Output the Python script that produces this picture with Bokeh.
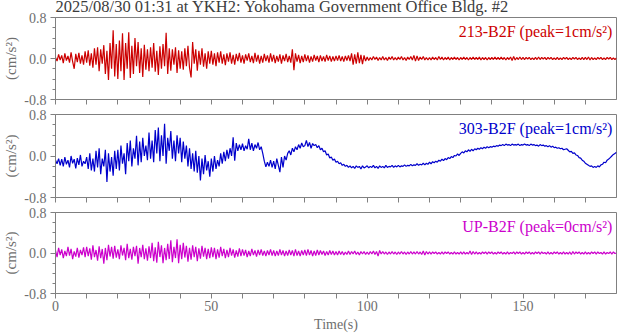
import numpy as np
from bokeh.plotting import figure
from bokeh.layouts import column
from bokeh.models import FixedTicker, PrintfTickFormatter, Label, Range1d, ColumnDataSource, Title
from bokeh.embed import file_html
from bokeh.resources import INLINE

# ---------------- data (0.5 s sampling) ----------------
sample_step_s = 0.5

acc_213_b2f = [
    0.02,-0.05,0.08,-0.03,0.06,-0.09,0.1,-0.04,0.05,-0.08,0.12,-0.06,-0.2,0.09,-0.07,0.11,-0.1,0.06,-0.12,0.14,
    -0.08,0.16,-0.14,0.1,-0.18,0.2,-0.12,0.22,-0.25,0.18,-0.1,0.26,-0.3,0.15,-0.42,0.3,-0.2,0.55,-0.35,0.28,
    -0.4,0.35,-0.25,0.49,-0.42,0.3,-0.2,0.51,-0.38,0.25,-0.3,0.4,-0.15,0.32,-0.28,0.2,-0.36,0.27,-0.22,0.18,
    -0.25,0.22,-0.18,0.3,-0.26,0.15,-0.32,0.24,-0.2,0.28,-0.15,0.5,-0.3,0.2,-0.24,0.18,-0.12,0.22,-0.28,0.16,
    -0.2,0.14,-0.22,0.2,-0.15,0.25,-0.18,-0.37,0.32,-0.1,0.18,-0.24,0.15,-0.12,0.2,-0.16,0.1,-0.2,0.14,-0.1,
    0.15,-0.12,0.1,-0.15,0.12,-0.08,0.14,-0.1,0.08,-0.13,0.1,-0.06,0.12,-0.1,0.07,-0.12,0.09,-0.05,0.11,-0.08,
    0.06,-0.1,0.08,-0.04,0.1,-0.07,0.05,-0.09,0.11,-0.06,0.07,-0.1,0.05,-0.08,0.09,-0.05,0.06,-0.08,0.1,-0.06,
    0.07,-0.09,0.05,-0.06,0.08,-0.1,0.06,-0.05,0.09,-0.07,0.05,-0.08,0.18,-0.23,0.1,-0.06,0.07,-0.09,0.05,-0.07,
    0.08,-0.05,0.06,-0.08,0.04,-0.06,0.07,-0.04,0.05,-0.07,0.06,-0.05,0.04,-0.06,0.07,-0.04,0.05,-0.06,0.04,-0.05,
    0.05,-0.04,0.06,-0.05,0.04,-0.06,0.05,-0.04,0.06,-0.05,0.1,-0.12,0.08,-0.1,0.12,-0.09,0.07,-0.11,0.06,-0.05,
    0.03,-0.04,0.02,-0.03,0.04,-0.02,0.03,-0.04,0.02,-0.03,0.04,-0.03,0.02,-0.04,0.03,-0.02,0.04,-0.03,0.02,-0.03,
    0.03,-0.02,0.04,-0.03,0.02,-0.04,0.03,-0.02,0.04,-0.03,0.06,-0.05,0.05,-0.04,0.03,-0.02,0.04,-0.03,0.02,-0.03,
    0.02,-0.03,0.03,-0.02,0.02,-0.03,0.04,-0.02,0.03,-0.03,0.02,-0.02,0.03,-0.03,0.02,-0.02,0.03,-0.02,0.02,-0.03,
    0.02,-0.02,0.03,-0.02,0.02,-0.03,0.02,-0.02,0.03,-0.02,0.02,-0.02,0.03,-0.03,0.02,-0.02,0.02,-0.03,0.02,-0.02,
    0.02,-0.02,0.03,-0.02,0.02,-0.02,0.03,-0.02,0.02,-0.03,0.02,-0.02,0.03,-0.04,0.04,-0.03,0.02,-0.02,0.03,-0.02,
    0.02,-0.02,0.02,-0.01,0.02,-0.02,0.01,-0.02,0.02,-0.02,0.03,-0.02,0.02,-0.01,0.02,-0.02,0.02,-0.01,0.02,-0.02,
    0.01,-0.02,0.02,-0.02,0.01,-0.02,0.02,-0.01,0.02,-0.02,0.01,-0.02,0.02,-0.01,0.02,-0.02,0.01,-0.02,0.02,-0.02,
    0.02,-0.02,0.03,-0.03,0.02,-0.02,0.01,-0.02,0.02,-0.01,0.02,-0.02,0.01,-0.02,0.02,-0.01,0.02,-0.02,0.01,-0.02,
    0.01,
]

acc_303_b2f = [
    -0.08,-0.15,-0.05,-0.18,-0.06,-0.2,-0.02,-0.16,-0.08,-0.22,0.0,-0.14,-0.06,-0.24,-0.04,-0.17,0.02,-0.2,-0.1,-0.15,
    -0.02,-0.25,0.05,-0.28,-0.05,-0.3,0.1,-0.22,0.15,-0.35,-0.05,-0.2,0.12,-0.5,0.05,-0.3,-0.02,-0.38,0.1,-0.25,
    0.12,-0.28,0.2,-0.15,0.05,-0.35,0.25,-0.1,0.3,-0.2,0.15,-0.05,0.39,-0.18,0.28,-0.12,0.35,0.0,0.2,-0.08,
    0.45,-0.05,0.3,-0.12,0.5,0.05,0.55,-0.1,0.4,0.0,0.62,-0.15,0.35,0.1,0.48,-0.05,0.3,-0.1,0.4,0.05,
    0.35,-0.12,0.28,-0.05,0.2,-0.2,0.15,-0.25,0.05,-0.3,0.1,-0.32,0.0,-0.47,-0.05,-0.35,0.02,-0.28,-0.1,-0.4,
    -0.05,-0.3,0.0,-0.25,-0.08,-0.2,0.05,-0.15,0.08,-0.1,0.12,-0.05,0.15,0.0,0.36,-0.09,0.25,0.1,0.22,0.12,
    0.24,0.1,0.2,0.13,0.33,0.12,0.25,0.1,0.22,0.15,0.26,0.12,0.18,0.05,-0.1,-0.21,-0.12,-0.2,-0.08,-0.22,
    -0.1,-0.25,-0.05,-0.18,-0.31,-0.02,-0.22,0.0,-0.08,0.05,0.1,0.02,0.15,0.08,0.18,0.12,0.22,0.15,0.25,0.18,
    0.2,0.3,0.18,0.26,0.15,0.24,0.2,0.22,0.16,0.2,0.12,0.15,0.08,0.1,0.02,0.04,-0.04,-0.02,-0.08,-0.06,
    -0.12,-0.1,-0.15,-0.13,-0.18,-0.16,-0.2,-0.18,-0.22,-0.19,-0.23,-0.2,-0.24,-0.19,-0.22,-0.2,-0.25,-0.19,-0.23,-0.21,
    -0.19,-0.23,-0.2,-0.22,-0.18,-0.23,-0.2,-0.24,-0.19,-0.22,-0.2,-0.23,-0.18,-0.22,-0.2,-0.21,-0.18,-0.22,-0.19,-0.21,
    -0.18,-0.21,-0.19,-0.2,-0.17,-0.2,-0.18,-0.19,-0.16,-0.19,-0.17,-0.18,-0.15,-0.18,-0.16,-0.17,-0.14,-0.17,-0.14,-0.16,
    -0.12,-0.15,-0.11,-0.13,-0.1,-0.12,-0.08,-0.1,-0.06,-0.09,-0.05,-0.07,-0.03,-0.05,-0.01,-0.03,0.01,0.0,0.04,0.01,
    0.05,0.08,0.06,0.1,0.08,0.12,0.09,0.13,0.1,0.14,0.12,0.15,0.13,0.16,0.14,0.17,0.15,0.18,0.16,0.18,
    0.17,0.19,0.18,0.2,0.19,0.21,0.2,0.22,0.2,0.23,0.21,0.22,0.2,0.23,0.21,0.22,0.21,0.23,0.2,0.22,
    0.21,0.23,0.21,0.22,0.2,0.23,0.21,0.22,0.2,0.21,0.19,0.22,0.2,0.21,0.19,0.2,0.18,0.2,0.17,0.19,
    0.16,0.17,0.15,0.16,0.14,0.15,0.12,0.13,0.14,0.11,0.08,0.09,0.05,0.06,0.02,0.01,-0.03,-0.04,-0.08,-0.1,
    -0.14,-0.16,-0.18,-0.2,-0.19,-0.22,-0.2,-0.22,-0.19,-0.21,-0.17,-0.16,-0.12,-0.13,-0.08,-0.06,-0.03,0.0,0.03,0.05,
    0.07,
]

acc_up_b2f = [
    0.05,-0.08,0.1,-0.04,0.07,-0.1,0.04,-0.06,0.12,-0.05,0.08,-0.12,0.03,-0.07,0.1,-0.09,0.06,-0.04,0.11,-0.08,
    0.12,-0.06,0.09,-0.13,0.15,-0.08,0.06,-0.15,0.13,-0.1,0.08,-0.21,0.1,-0.14,0.16,-0.07,0.12,-0.11,0.14,-0.09,
    0.07,-0.12,0.15,-0.05,0.1,-0.14,0.18,-0.1,0.08,-0.13,0.12,-0.06,0.14,-0.21,0.1,-0.08,0.16,-0.12,0.09,-0.15,
    0.13,-0.1,0.2,-0.16,0.11,-0.19,0.22,-0.08,0.15,-0.2,0.1,-0.14,0.18,-0.12,0.25,-0.18,0.12,-0.1,0.27,-0.2,
    0.16,-0.12,0.2,-0.09,0.14,-0.17,0.1,-0.13,0.15,-0.08,0.12,-0.16,0.09,-0.11,0.14,-0.07,0.1,-0.12,0.08,-0.1,
    0.11,-0.08,0.1,-0.12,0.07,-0.09,0.12,-0.06,0.08,-0.1,0.06,-0.08,0.1,-0.05,0.07,-0.09,0.05,-0.07,0.09,-0.06,
    0.07,-0.05,0.06,-0.08,0.04,-0.06,0.08,-0.04,0.05,-0.07,0.06,-0.04,0.07,-0.05,0.04,-0.06,0.05,-0.04,0.07,-0.05,
    0.05,-0.06,0.04,-0.05,0.07,-0.04,0.05,-0.06,0.04,-0.05,0.06,-0.04,0.05,-0.06,0.07,-0.05,0.04,-0.06,0.05,-0.04,
    0.06,-0.05,0.07,-0.04,0.05,-0.06,0.04,-0.05,0.06,-0.04,0.05,-0.03,0.04,-0.05,0.03,-0.04,0.05,-0.03,0.04,-0.04,
    0.03,-0.04,0.04,-0.03,0.03,-0.04,0.02,-0.03,0.04,-0.03,0.03,-0.02,0.04,-0.03,0.02,-0.04,0.03,-0.02,0.03,-0.03,
    0.02,-0.03,0.03,-0.02,0.04,-0.03,0.03,-0.06,0.05,-0.02,0.03,-0.02,0.02,-0.03,0.02,-0.02,0.03,-0.02,0.02,-0.03,
    0.02,-0.02,0.03,-0.02,0.02,-0.03,0.02,-0.02,0.03,-0.02,0.02,-0.02,0.03,-0.02,0.02,-0.03,0.04,-0.04,0.03,-0.02,
    0.02,-0.02,0.02,-0.01,0.02,-0.02,0.01,-0.02,0.02,-0.02,0.02,-0.01,0.02,-0.02,0.01,-0.02,0.02,-0.02,0.01,-0.02,
    0.02,-0.02,0.02,-0.02,0.01,-0.02,0.04,-0.03,0.03,-0.02,0.02,-0.02,0.01,-0.02,0.02,-0.01,0.02,-0.02,0.02,-0.01,
    0.02,-0.02,0.01,-0.02,0.02,-0.01,0.02,-0.02,0.01,-0.02,0.02,-0.02,0.01,-0.01,0.02,-0.02,0.02,-0.01,0.02,-0.02,
    0.01,-0.02,0.02,-0.01,0.02,-0.02,0.01,-0.02,0.02,-0.01,0.02,-0.02,0.02,-0.01,0.01,-0.02,0.02,-0.02,0.01,-0.02,
    0.02,-0.01,0.02,-0.02,0.01,-0.02,0.02,-0.02,0.01,-0.02,0.02,-0.03,0.03,-0.02,0.02,-0.01,0.02,-0.02,0.01,-0.02,
    0.02,-0.02,0.01,-0.02,0.02,-0.01,0.02,-0.02,0.02,-0.01,0.01,-0.02,0.02,-0.02,0.01,-0.01,0.02,-0.02,0.02,-0.01,
    0.0,
]

time_s = np.arange(len(acc_213_b2f)) * sample_step_s

title_text = "2025/08/30 01:31 at YKH2: Yokohama Government Office Bldg. #2"
channel_labels = ["213-B2F (peak=1cm/s\u00b2)", "303-B2F (peak=1cm/s\u00b2)", "UP-B2F (peak=0cm/s\u00b2)"]
channel_colors = ["#cc0000", "#0000cc", "#cc00cc"]
channel_series = [acc_213_b2f, acc_303_b2f, acc_up_b2f]

x_major_ticks = [0, 50, 100, 150]
x_minor_ticks = [10, 20, 30, 40, 60, 70, 80, 90, 110, 120, 130, 140, 160, 170]
y_major_ticks = [-0.8, 0.0, 0.8]
y_minor_ticks = [-0.6, -0.4, -0.2, 0.2, 0.4, 0.6]
x_axis_title = "Time(s)"
y_axis_title = "(cm/s\u00b2)"

FONT = "Liberation Serif"
GRAY = "#808080"
LABEL_GRAY = "#6e6e6e"
SHIFT = 4  # page is drawn a few px above the viewport top, like the reference title


def make_panel(idx, height, top, bottom, show_x_labels):
    p = figure(width=618, height=height, output_backend="svg", toolbar_location=None,
               x_range=Range1d(0, 180), y_range=Range1d(-0.8, 0.8),
               min_border_left=55, min_border_right=2, min_border_top=top, min_border_bottom=bottom,
               background_fill_color="white", border_fill_color="white")
    p.outline_line_color = GRAY
    p.outline_line_width = 1
    p.xgrid.visible = False
    p.ygrid.visible = False

    src = ColumnDataSource(dict(t=time_s, a=channel_series[idx]))
    p.line("t", "a", source=src, line_color=channel_colors[idx], line_width=1.2)

    xa = p.xaxis[0]
    xa.ticker = FixedTicker(ticks=x_major_ticks, minor_ticks=x_minor_ticks)
    xa.axis_line_color = GRAY
    xa.major_tick_line_color = GRAY
    xa.minor_tick_line_color = GRAY
    xa.major_tick_in = 0
    xa.major_tick_out = 5
    xa.minor_tick_in = 0
    xa.minor_tick_out = 5
    xa.major_label_text_font = FONT
    xa.major_label_text_color = LABEL_GRAY
    xa.major_label_text_font_size = "14px"
    if show_x_labels:
        xa.major_label_standoff = 2
        xa.axis_label = x_axis_title
        xa.axis_label_text_font = FONT
        xa.axis_label_text_font_size = "14px"
        xa.axis_label_text_font_style = "normal"
        xa.axis_label_text_color = LABEL_GRAY
        xa.axis_label_standoff = 3
    else:
        xa.major_label_overrides = {t: "" for t in x_major_ticks}
        xa.major_label_standoff = 0

    ya = p.yaxis[0]
    ya.ticker = FixedTicker(ticks=y_major_ticks, minor_ticks=y_minor_ticks)
    ya.formatter = PrintfTickFormatter(format="%.1f")
    ya.axis_line_color = GRAY
    ya.major_tick_line_color = GRAY
    ya.minor_tick_line_color = GRAY
    ya.major_tick_in = 0
    ya.major_tick_out = 5
    ya.minor_tick_in = 0
    ya.minor_tick_out = 3
    ya.major_label_text_font = FONT
    ya.major_label_text_font_size = "14px"
    ya.major_label_text_color = LABEL_GRAY
    ya.major_label_standoff = 4
    ya.axis_label = y_axis_title
    ya.axis_label_text_font = FONT
    ya.axis_label_text_font_size = "15px"
    ya.axis_label_text_font_style = "normal"
    ya.axis_label_text_color = LABEL_GRAY
    ya.axis_label_standoff = 2

    p.add_layout(Label(x=178.7, y=0.53, text=channel_labels[idx], text_align="right",
                       text_baseline="alphabetic", text_font=FONT, text_font_size="16px",
                       text_color=channel_colors[idx]))
    return p


f1 = make_panel(0, 106 + SHIFT, 16 + SHIFT, 7, False)
f1.title = Title(text=title_text, align="left", vertical_align="top", standoff=0,
                 text_font=FONT, text_font_size="16.5px", text_font_style="normal",
                 text_color="#3c3c3c")
f2 = make_panel(1, 98, 8, 7, False)
f3 = make_panel(2, 130, 8, 38, True)

layout = column(f1, f2, f3, spacing=0,
                styles={"position": "absolute", "left": "0px", "top": f"-{SHIFT}px"})

open("out.html", "w").write(file_html(layout, INLINE))
